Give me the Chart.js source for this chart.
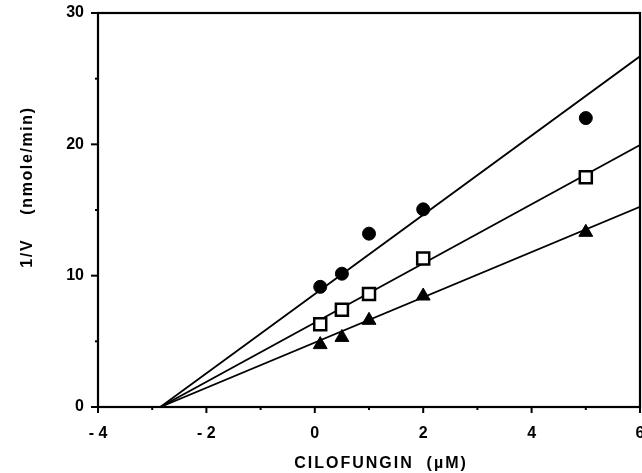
<!DOCTYPE html>
<html>
<head>
<meta charset="utf-8">
<script src="https://cdn.jsdelivr.net/npm/chart.js@4.4.1/dist/chart.umd.min.js"></script>
<style>
  html, body { margin: 0; padding: 0; background: #fff; }
  #wrap { width: 642px; height: 473px; position: relative; }
</style>
</head>
<body>
<div id="wrap"><canvas id="c"></canvas></div>
<script>
/* Dixon-style plot: 1/V vs cilofungin concentration */
const conc = [0.1, 0.5, 1, 2, 5];
const circles = [9.15, 10.15, 13.2, 15.05, 22.0];
const squares = [6.3, 7.4, 8.6, 11.3, 17.5];
const triangles = [4.75, 5.3, 6.6, 8.45, 13.3];

// fitted lines: common x-intercept and value at right edge
const lineX = [-2.85, 6];
const lineCircles = [0, 26.7];
const lineSquares = [0, 19.95];
const lineTriangles = [0, 15.25];

const xTicks = [-4, -2, 0, 2, 4, 6];
const yTicks = [0, 10, 20, 30];

const FONT = "'Liberation Sans', Arial, Helvetica, sans-serif";
const pts = ys => conc.map((x, i) => ({ x, y: ys[i] }));
const seg = ys => lineX.map((x, i) => ({ x, y: ys[i] }));

function lineSet(ys) {
  return { type: "line", data: seg(ys), borderColor: "#000", borderWidth: 1.8,
           pointRadius: 0, fill: false, tension: 0, order: 2 };
}

// frame, tick marks and axis titles
const decor = {
  id: "decor",
  afterDraw(chart) {
    const { ctx, chartArea: a, scales: { x, y } } = chart;
    ctx.save();
    ctx.strokeStyle = "#000";
    ctx.lineWidth = 2.2;
    ctx.strokeRect(a.left, a.top, a.right - a.left, a.bottom - a.top);
    ctx.lineWidth = 2;
    for (let v = -4; v <= 6; v++) {
      const px = x.getPixelForValue(v);
      const len = v % 2 === 0 ? 6 : 3;
      ctx.beginPath(); ctx.moveTo(px, a.bottom); ctx.lineTo(px, a.bottom + len); ctx.stroke();
    }
    for (let v = 0; v <= 30; v += 5) {
      const py = y.getPixelForValue(v);
      const len = v % 10 === 0 ? 7 : 3;
      ctx.beginPath(); ctx.moveTo(a.left, py); ctx.lineTo(a.left - len, py); ctx.stroke();
    }
    ctx.fillStyle = "#000";
    ctx.font = "bold 16px " + FONT;
    ctx.textAlign = "center";
    ctx.textBaseline = "middle";
    ctx.letterSpacing = "2px";
    ctx.fillText("CILOFUNGIN  (\u00b5M)", 381, 464);
    ctx.letterSpacing = "1.6px";
    ctx.translate(28, 187);
    ctx.rotate(-Math.PI / 2);
    ctx.fillText("1/V    (nmole/min)", 0, 0);
    ctx.restore();
  }
};

new Chart(document.getElementById("c"), {
  type: "scatter",
  data: {
    datasets: [
      lineSet(lineCircles), lineSet(lineSquares), lineSet(lineTriangles),
      { data: pts(circles), pointStyle: "circle", pointRadius: 6.5,
        backgroundColor: "#000", borderColor: "#000", borderWidth: 1, order: 1 },
      { data: pts(squares), pointStyle: "rect", pointRadius: 8.5,
        backgroundColor: "#fff", borderColor: "#000", borderWidth: 2.5, order: 1 },
      { data: pts(triangles), pointStyle: "triangle", pointRadius: 8,
        backgroundColor: "#000", borderColor: "#000", borderWidth: 1, order: 1 },
    ],
  },
  options: {
    responsive: true,
    maintainAspectRatio: false,
    animation: false,
    layout: { autoPadding: false, padding: { top: 13, right: 2, left: 0, bottom: 0 } },
    plugins: { legend: { display: false }, tooltip: { enabled: false } },
    scales: {
      x: {
        type: "linear", min: -4, max: 6,
        afterFit: s => { s.height = 66; s.paddingLeft = 0; s.paddingRight = 0; },
        afterBuildTicks: s => { s.ticks = xTicks.map(v => ({ value: v })); },
        grid: { display: false, drawTicks: false },
        border: { display: false },
        ticks: {
          autoSkip: false, padding: 17, color: "#000",
          font: { family: FONT, size: 16, weight: "bold" },
          callback: v => (v < 0 ? "- " + Math.abs(v) : String(v)),
        },
      },
      y: {
        type: "linear", min: 0, max: 30,
        afterFit: s => { s.width = 98; s.paddingTop = 0; s.paddingBottom = 0; },
        afterBuildTicks: s => { s.ticks = yTicks.map(v => ({ value: v })); },
        grid: { display: false, drawTicks: false },
        border: { display: false },
        ticks: {
          autoSkip: false, padding: 14, color: "#000",
          font: { family: FONT, size: 16, weight: "bold" },
        },
      },
    },
  },
  plugins: [decor],
});
</script>
</body>
</html>
